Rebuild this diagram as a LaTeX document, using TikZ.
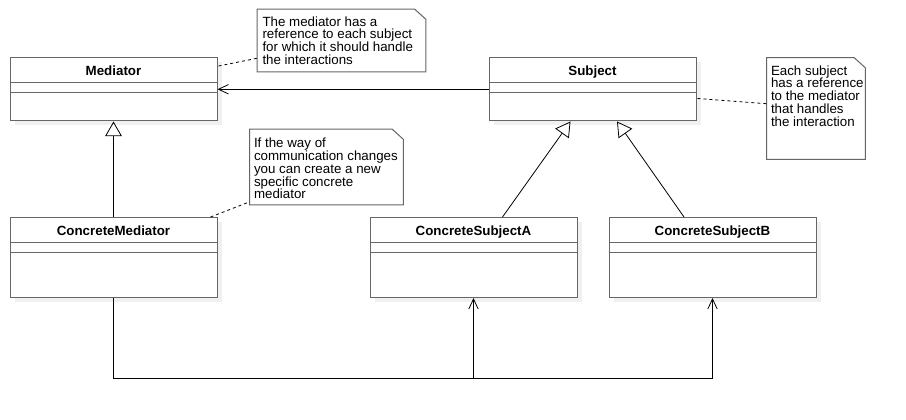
\documentclass[tikz,border=0pt]{standalone}
\usepackage{fontspec}
\setmainfont{Liberation Sans}
\usetikzlibrary{arrows.meta,calc,shadows}

\tikzset{
  classbox/.style={draw=black!60, line width=0.75pt, fill=white, rectangle,
    minimum width=155.25pt, inner sep=0pt,
    general shadow={fill=black!6, shadow xshift=3.75pt, shadow yshift=-3pt}},
  classname/.style={font=\fontsize{10}{12}\selectfont\bfseries, inner sep=0pt, anchor=base},
  classline/.style={draw=black!60, line width=0.75pt},
  notebox/.style={inner sep=0pt, rectangle},
  notetext/.style={font=\fontsize{10}{9.6}\selectfont, align=left, inner sep=0pt, anchor=north west},
  noteline/.style={draw=black!60, line width=0.75pt, fill=white},
  notelink/.style={dash pattern=on 2.25pt off 2.25pt, line width=0.6pt},
  gen/.style={-{Triangle[open, length=11pt, width=12.5pt]}, line width=0.6pt},
  assoc/.style={-{Straight Barb[length=7.5pt, width=7pt]}, line width=0.6pt},
}

% name, title, x, y, height
\newcommand{\umlclass}[5]{
  \node[classbox, minimum height=#5] (#1) at (#3,#4) {};
  \node[classname] (#1-t) at ($(#1.north)+(0,18)$) {#2};
  \draw[classline] ($(#1.north west)+(0,25)$) -- ($(#1.north east)+(0,25)$);
  \draw[classline] ($(#1.north west)+(0,35)$) -- ($(#1.north east)+(0,35)$);
}

% note outline with folded corner
\newcommand{\umlnote}[1]{
  \draw[noteline] (#1.north west) -- ($(#1.north east)+(-11,0)$) -- ($(#1.north east)+(0,10)$)
    -- (#1.south east) -- (#1.south west) -- cycle;
}

\begin{document}
\begin{tikzpicture}[x=0.75pt, y=-0.75pt]
  \useasboundingbox (0,0) rectangle (906,419);

  \umlclass{med}{Mediator}{113.5}{89.25}{47.6pt}
  \umlclass{sub}{Subject}{592.5}{89.25}{47.6pt}
  \umlclass{cmed}{ConcreteMediator}{113.5}{257.5}{60pt}
  \umlclass{csa}{ConcreteSubjectA}{473.5}{257.5}{60pt}
  \umlclass{csb}{ConcreteSubjectB}{712.5}{257.5}{60pt}

  \node[notebox, minimum width=126pt, minimum height=46.5pt] (n1) at (341.5,40.5) {};
  \umlnote{n1}
  \node[notetext] (n1-t) at ($(n1.north west)+(5,7)$) {The mediator has a\\reference to each subject\\for which it should handle\\the interactions};

  \node[notebox, minimum width=73.5pt, minimum height=75.75pt] (n2) at (816,108.5) {};
  \umlnote{n2}
  \node[notetext] (n2-t) at ($(n2.north west)+(4,7.5)$) {Each subject\\has a reference\\to the mediator\\that handles\\the interaction};

  \node[notebox, minimum width=114.75pt, minimum height=56.25pt] (n3) at (326.5,167) {};
  \umlnote{n3}
  \node[notetext] (n3-t) at ($(n3.north west)+(4,8.5)$) {If the way of\\communication changes\\you can create a new\\specific concrete\\mediator};

  \draw[assoc] (sub.west) -- (med.east);
  \draw[gen] (cmed.north) -- (med.south);
  \draw[gen] ($(csa.north)+(29,0)$) -- ($(sub.south)+(-22,0)$);
  \draw[gen] ($(csb.north)+(-28.5,0)$) -- ($(sub.south)+(24.5,0)$);

  \draw[assoc] (cmed.south) -- ++(0,80) -| (csa.south);
  \draw[assoc] (cmed.south) -- ++(0,80) -| (csb.south);

  \draw[notelink] ($(med.north east)+(1,9)$) -- ($(n1.north west)+(0,49)$);
  \draw[notelink] ($(sub.south east)+(1,-23)$) -- ($(n2.north west)+(0,46)$);
  \draw[notelink] ($(cmed.north east)+(-7,0)$) -- ($(n3.south west)+(0,-3)$);
\end{tikzpicture}
\end{document}
